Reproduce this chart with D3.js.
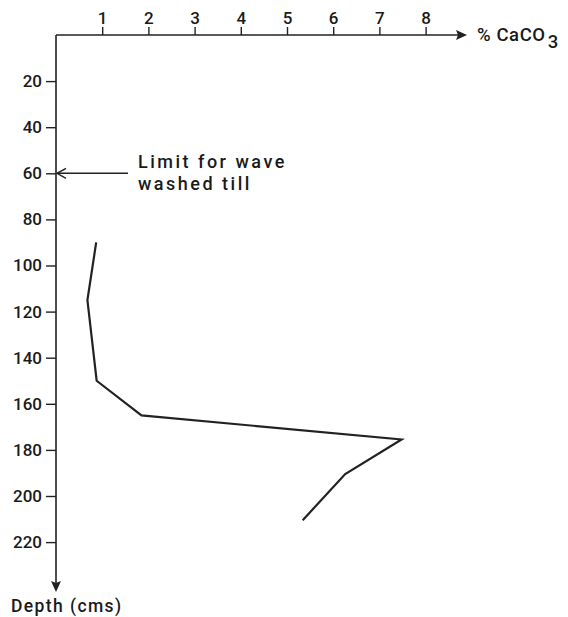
<!DOCTYPE html>
<html>
<head>
<meta charset="utf-8">
<script src="https://cdn.jsdelivr.net/npm/d3@7"></script>
<style>
  html, body { margin: 0; padding: 0; background: #fff; }
  svg { display: block; }
  text { font-family: Roboto, "DejaVu Sans", sans-serif; font-weight: 500; fill: #1a1a1a; }
</style>
</head>
<body>
<script>
// Data
const depth = [90, 115, 150, 165, 175.5, 190.5, 210.5];   // cm
const caco3 = [0.87, 0.68, 0.88, 1.85, 7.48, 6.26, 5.34]; // %
const xTicks = [1, 2, 3, 4, 5, 6, 7, 8];
const yTicks = [20, 40, 60, 80, 100, 120, 140, 160, 180, 200, 220];
const limitDepth = 60;

const W = 568, H = 617;
const svg = d3.select("body").append("svg").attr("width", W).attr("height", H);

const x0 = 56, y0 = 35;
const x = d3.scaleLinear().domain([0, 8]).range([x0, x0 + 8 * 46.2]);
const y = d3.scaleLinear().domain([0, 220]).range([y0, y0 + 220 * 2.305]);

const ink = "#222";
const fontF = "Roboto, DejaVu Sans, sans-serif";

// Axes lines
svg.append("line").attr("x1", x0).attr("x2", 460).attr("y1", y0).attr("y2", y0)
  .attr("stroke", ink).attr("stroke-width", 1.6);
svg.append("line").attr("x1", x0).attr("x2", x0).attr("y1", y0).attr("y2", 585)
  .attr("stroke", ink).attr("stroke-width", 1.6);
// Arrow heads
svg.append("path").attr("d", `M467,${y0} L456,${y0-5} L458,${y0} L456,${y0+5} Z`).attr("fill", ink);
svg.append("path").attr("d", `M${x0},592 L${x0-5},581 L${x0},583 L${x0+5},581 Z`).attr("fill", ink);

// X axis ticks (top)
const xAxis = d3.axisTop(x).tickValues(xTicks).tickSize(8).tickPadding(3).tickFormat(d3.format("d"));
const gx = svg.append("g").attr("transform", `translate(0,${y0})`).call(xAxis);
gx.attr("font-family", fontF).attr("font-size", 17);
gx.select(".domain").remove();
gx.selectAll("line").attr("stroke", ink).attr("stroke-width", 1.4);
gx.selectAll("text").attr("fill", "#1a1a1a");

// Y axis ticks (left)
const yAxis = d3.axisLeft(y).tickValues(yTicks).tickSize(10).tickPadding(4).tickFormat(d3.format("d"));
const gy = svg.append("g").attr("transform", `translate(${x0},0)`).call(yAxis);
gy.attr("font-family", fontF).attr("font-size", 17);
gy.select(".domain").remove();
gy.selectAll("line").attr("stroke", ink).attr("stroke-width", 1.4);
gy.selectAll("text").attr("fill", "#1a1a1a");

// Axis titles
const t = svg.append("text").attr("x", 477).attr("y", 41).attr("font-size", 18.5).attr("letter-spacing", 0.6);
t.append("tspan").text("% CaCO");
t.append("tspan").attr("dy", 7).attr("dx", 2).text("3");
svg.append("text").attr("x", 11).attr("y", 612).attr("font-size", 17.5).attr("letter-spacing", 1.4).text("Depth (cms)");

// Limit annotation with open arrow
const ly = y(limitDepth);
svg.append("line").attr("x1", 128).attr("x2", x0 + 1).attr("y1", ly).attr("y2", ly)
  .attr("stroke", ink).attr("stroke-width", 1.4);
svg.append("path").attr("d", `M${x0+10},${ly-5} L${x0+1},${ly} L${x0+10},${ly+5}`)
  .attr("fill", "none").attr("stroke", ink).attr("stroke-width", 1.4);
svg.append("text").attr("x", 138).attr("y", 168).attr("font-size", 18).attr("letter-spacing", 2.5).text("Limit for wave");
svg.append("text").attr("x", 138).attr("y", 190).attr("font-size", 18).attr("letter-spacing", 2.5).text("washed till");

// Data line
const line = d3.line().x((d, i) => x(caco3[i])).y(d => y(d));
svg.append("path").datum(depth).attr("d", line)
  .attr("fill", "none").attr("stroke", ink).attr("stroke-width", 2.2).attr("stroke-linejoin", "miter");
</script>
</body>
</html>
